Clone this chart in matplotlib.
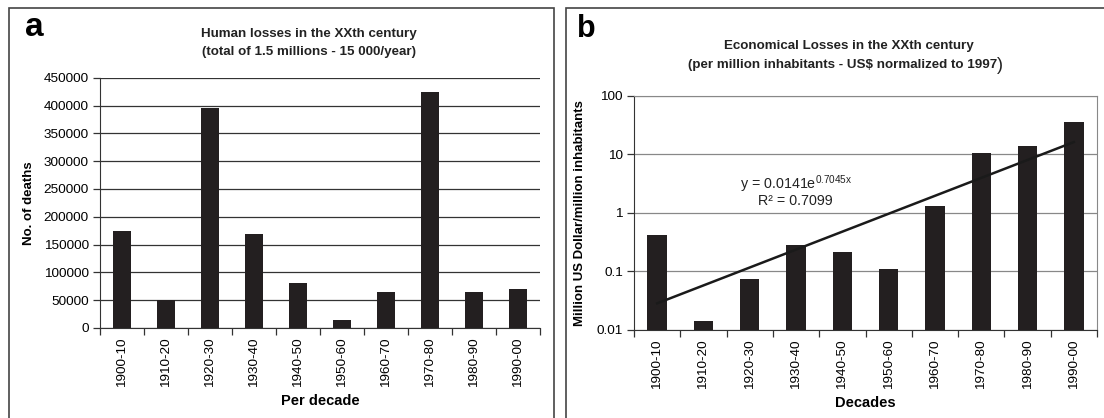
import numpy as np
import matplotlib
matplotlib.use("Agg")
import matplotlib.pyplot as plt
from matplotlib.patches import Rectangle

plt.rcParams['font.family'] = ['Liberation Sans', 'DejaVu Sans']

# data
decades = ['1900-10', '1910-20', '1920-30', '1930-40', '1940-50',
           '1950-60', '1960-70', '1970-80', '1980-90', '1990-00']
deaths = [175000, 51000, 395000, 169000, 81000, 15000, 64000, 425000, 64000, 71000]
econ_losses = [0.42, 0.0145, 0.075, 0.285, 0.213, 0.112, 1.29, 10.7, 13.9, 35]
# exponential trendline reported on the chart
trend_a = 0.0141
trend_b = 0.7045
trend_r2 = 0.7099

bar_color = '#231f20'
x = np.arange(len(decades))

fig = plt.figure(figsize=(11.04, 4.18), dpi=100)

# panel frames
fig.patches.append(Rectangle((9 / 1104, -0.01), (554 - 9) / 1104, 1 - 8 / 418 + 0.01,
                             transform=fig.transFigure, fill=False, edgecolor='#444444', lw=1.2))
fig.patches.append(Rectangle((566 / 1104, -0.01), 0.5, 1 - 8 / 418 + 0.01,
                             transform=fig.transFigure, fill=False, edgecolor='#444444', lw=1.2))


def style_category_axis(ax):
    ax.set_xlim(-0.5, len(decades) - 0.5)
    ax.set_xticks(x)
    ax.set_xticklabels(decades, rotation=90, fontsize=9.7)
    ax.set_xticks(np.arange(-0.5, len(decades)), minor=True)
    ax.tick_params(axis='x', which='major', length=0, pad=7)
    ax.tick_params(axis='x', which='minor', length=5, width=0.9, color='#333333')
    ax.tick_params(axis='y', which='major', length=5, width=0.9, color='#333333', labelsize=9.7, pad=3)
    ax.tick_params(axis='y', which='minor', length=0)
    ax.set_axisbelow(True)


# ---- panel a: human losses ----
ax1 = fig.add_axes([100 / 1104, 1 - 328 / 418, 440 / 1104, (328 - 77.7) / 418])
ax1.bar(x, deaths, width=0.42, color=bar_color, zorder=3)
ax1.set_ylim(0, 450000)
ax1.set_yticks(np.arange(0, 450001, 50000))
ax1.yaxis.grid(True, color='#333333', lw=0.9)
style_category_axis(ax1)
for side in ['top', 'right']:
    ax1.spines[side].set_visible(False)
ax1.spines['left'].set_color('#333333')
ax1.spines['bottom'].set_color('#333333')
ax1.set_ylabel('No. of deaths', fontsize=9.5, fontweight='bold', labelpad=6)
ax1.set_xlabel('Per decade', fontsize=10.5, fontweight='bold', labelpad=5)

fig.text(309 / 1104, 1 - 34 / 418, 'Human losses in the XXth century', ha='center', va='center',
         fontsize=9.6, fontweight='bold', color='#222222')
fig.text(309 / 1104, 1 - 52 / 418, '(total of 1.5 millions - 15 000/year)', ha='center', va='center',
         fontsize=9.6, fontweight='bold', color='#222222')
fig.text(25 / 1104, 1 - 27 / 418, 'a', ha='left', va='center', fontsize=24, fontweight='bold')

# ---- panel b: economical losses ----
ax2 = fig.add_axes([634 / 1104, 1 - 330 / 418, (1097 - 634) / 1104, (330 - 95.7) / 418])
ax2.bar(x, econ_losses, width=0.42, color=bar_color, zorder=3)
ax2.set_yscale('log')
ax2.set_ylim(0.01, 100)
ax2.set_yticks([0.01, 0.1, 1, 10, 100])
ax2.set_yticklabels(['0.01', '0.1', '1', '10', '100'])
ax2.yaxis.grid(True, which='major', color='#888888', lw=0.9)
style_category_axis(ax2)
for side in ['top', 'right']:
    ax2.spines[side].set_color('#888888')
ax2.spines['left'].set_color('#333333')
ax2.spines['bottom'].set_color('#333333')

trend_x = x + 1
trend_y = trend_a * np.exp(trend_b * trend_x)
ax2.plot(x, trend_y, color='#1a1a1a', lw=1.8, zorder=4)

ax2.set_ylabel('Million US Dollar/million inhabitants', fontsize=9.5, fontweight='bold', labelpad=8)
ax2.set_xlabel('Decades', fontsize=10.5, fontweight='bold', labelpad=5)

fig.text(796 / 1104, 1 - 184 / 418, 'y = %.4fe$\\mathregular{^{%.4fx}}$' % (trend_a, trend_b),
         ha='center', va='center', fontsize=10.3, color='#222222')
fig.text(795 / 1104, 1 - 201 / 418, 'R² = %.4f' % trend_r2, ha='center', va='center',
         fontsize=10.3, color='#222222')

fig.text(849 / 1104, 1 - 46 / 418, 'Economical Losses in the XXth century', ha='center', va='center',
         fontsize=9.6, fontweight='bold', color='#222222')
fig.text(997 / 1104, 1 - 65 / 418, '(per million inhabitants - US$ normalized to 1997', ha='right',
         va='center', fontsize=9.6, fontweight='bold', color='#222222')
fig.text(997 / 1104, 1 - 65 / 418, ')', ha='left', va='center', fontsize=13, color='#222222')
fig.text(577 / 1104, 1 - 29 / 418, 'b', ha='left', va='center', fontsize=22, fontweight='bold')

fig.savefig('out.png', dpi=100)
